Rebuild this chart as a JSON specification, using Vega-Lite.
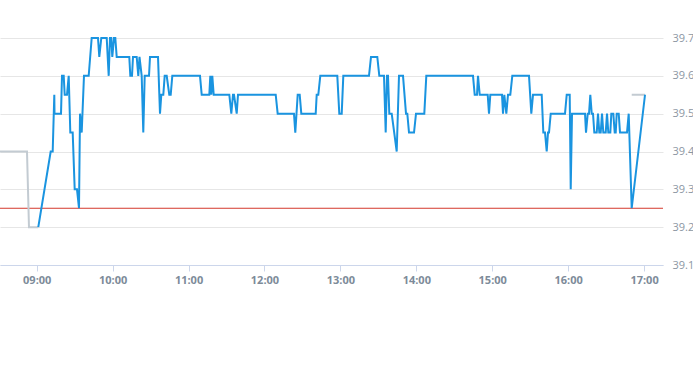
{
  "$schema": "https://vega.github.io/schema/vega-lite/v6.json",
  "width": 663,
  "height": 227,
  "autosize": {"type": "none"},
  "padding": {"left": 0, "top": 38, "right": 30, "bottom": 100},
  "background": "#ffffff",
  "config": {"view": {"stroke": null}},
  "encoding": {
    "y": {
      "field": "v",
      "type": "quantitative",
      "scale": {"domain": [39.1, 39.7], "zero": false, "nice": false},
      "axis": {
        "title": null,
        "orient": "right",
        "values": [39.1, 39.2, 39.3, 39.4, 39.5, 39.6, 39.7],
        "format": ".1f",
        "domain": false,
        "ticks": false,
        "labelOverlap": false,
        "gridColor": "#e6e6e6",
        "labelColor": "#8c97a3",
        "labelFontSize": 11,
        "labelPadding": 9,
        "labelFont": "Open Sans"
      }
    }
  },
  "layer": [
    {
      "data": {"values": [{"v": 39.25}]},
      "mark": {"type": "rule", "color": "#d4382c", "strokeWidth": 1}
    },
    {
      "data": {"values": [
      {"t": "2024-01-02T08:31:00", "v": 39.4, "s": "pre"},
      {"t": "2024-01-02T08:52:20", "v": 39.4, "s": "pre"},
      {"t": "2024-01-02T08:53:55", "v": 39.2, "s": "pre"},
      {"t": "2024-01-02T09:01:16", "v": 39.2, "s": "pre"},
      {"t": "2024-01-02T16:50:16", "v": 39.55, "s": "post"},
      {"t": "2024-01-02T17:00:47", "v": 39.55, "s": "post"},
      {"t": "2024-01-02T09:01:16", "v": 39.2, "s": "main"},
      {"t": "2024-01-02T09:11:04", "v": 39.4, "s": "main"},
      {"t": "2024-01-02T09:12:39", "v": 39.4, "s": "main"},
      {"t": "2024-01-02T09:13:55", "v": 39.55, "s": "main"},
      {"t": "2024-01-02T09:14:05", "v": 39.5, "s": "main"},
      {"t": "2024-01-02T09:19:13", "v": 39.5, "s": "main"},
      {"t": "2024-01-02T09:20:00", "v": 39.6, "s": "main"},
      {"t": "2024-01-02T09:21:21", "v": 39.6, "s": "main"},
      {"t": "2024-01-02T09:22:08", "v": 39.55, "s": "main"},
      {"t": "2024-01-02T09:23:57", "v": 39.55, "s": "main"},
      {"t": "2024-01-02T09:25:18", "v": 39.6, "s": "main"},
      {"t": "2024-01-02T09:26:34", "v": 39.45, "s": "main"},
      {"t": "2024-01-02T09:28:27", "v": 39.45, "s": "main"},
      {"t": "2024-01-02T09:30:02", "v": 39.3, "s": "main"},
      {"t": "2024-01-02T09:31:51", "v": 39.3, "s": "main"},
      {"t": "2024-01-02T09:33:26", "v": 39.25, "s": "main"},
      {"t": "2024-01-02T09:34:14", "v": 39.5, "s": "main"},
      {"t": "2024-01-02T09:35:34", "v": 39.45, "s": "main"},
      {"t": "2024-01-02T09:37:23", "v": 39.6, "s": "main"},
      {"t": "2024-01-02T09:41:06", "v": 39.6, "s": "main"},
      {"t": "2024-01-02T09:43:28", "v": 39.7, "s": "main"},
      {"t": "2024-01-02T09:48:27", "v": 39.7, "s": "main"},
      {"t": "2024-01-02T09:49:29", "v": 39.65, "s": "main"},
      {"t": "2024-01-02T09:51:04", "v": 39.7, "s": "main"},
      {"t": "2024-01-02T09:55:20", "v": 39.7, "s": "main"},
      {"t": "2024-01-02T09:56:55", "v": 39.6, "s": "main"},
      {"t": "2024-01-02T09:57:56", "v": 39.7, "s": "main"},
      {"t": "2024-01-02T09:58:58", "v": 39.7, "s": "main"},
      {"t": "2024-01-02T09:59:45", "v": 39.65, "s": "main"},
      {"t": "2024-01-02T10:01:06", "v": 39.7, "s": "main"},
      {"t": "2024-01-02T10:02:08", "v": 39.7, "s": "main"},
      {"t": "2024-01-02T10:03:14", "v": 39.65, "s": "main"},
      {"t": "2024-01-02T10:13:11", "v": 39.65, "s": "main"},
      {"t": "2024-01-02T10:13:59", "v": 39.6, "s": "main"},
      {"t": "2024-01-02T10:15:20", "v": 39.6, "s": "main"},
      {"t": "2024-01-02T10:16:07", "v": 39.65, "s": "main"},
      {"t": "2024-01-02T10:19:02", "v": 39.65, "s": "main"},
      {"t": "2024-01-02T10:20:18", "v": 39.6, "s": "main"},
      {"t": "2024-01-02T10:21:15", "v": 39.65, "s": "main"},
      {"t": "2024-01-02T10:22:59", "v": 39.6, "s": "main"},
      {"t": "2024-01-02T10:24:15", "v": 39.45, "s": "main"},
      {"t": "2024-01-02T10:25:22", "v": 39.6, "s": "main"},
      {"t": "2024-01-02T10:28:46", "v": 39.6, "s": "main"},
      {"t": "2024-01-02T10:29:33", "v": 39.65, "s": "main"},
      {"t": "2024-01-02T10:35:53", "v": 39.65, "s": "main"},
      {"t": "2024-01-02T10:37:27", "v": 39.5, "s": "main"},
      {"t": "2024-01-02T10:38:29", "v": 39.55, "s": "main"},
      {"t": "2024-01-02T10:40:04", "v": 39.55, "s": "main"},
      {"t": "2024-01-02T10:41:10", "v": 39.6, "s": "main"},
      {"t": "2024-01-02T10:42:45", "v": 39.6, "s": "main"},
      {"t": "2024-01-02T10:44:48", "v": 39.55, "s": "main"},
      {"t": "2024-01-02T10:45:55", "v": 39.55, "s": "main"},
      {"t": "2024-01-02T10:47:11", "v": 39.6, "s": "main"},
      {"t": "2024-01-02T11:09:04", "v": 39.6, "s": "main"},
      {"t": "2024-01-02T11:10:25", "v": 39.55, "s": "main"},
      {"t": "2024-01-02T11:16:25", "v": 39.55, "s": "main"},
      {"t": "2024-01-02T11:17:13", "v": 39.6, "s": "main"},
      {"t": "2024-01-02T11:18:00", "v": 39.55, "s": "main"},
      {"t": "2024-01-02T11:18:47", "v": 39.6, "s": "main"},
      {"t": "2024-01-02T11:19:54", "v": 39.55, "s": "main"},
      {"t": "2024-01-02T11:32:14", "v": 39.55, "s": "main"},
      {"t": "2024-01-02T11:33:49", "v": 39.5, "s": "main"},
      {"t": "2024-01-02T11:35:09", "v": 39.55, "s": "main"},
      {"t": "2024-01-02T11:35:56", "v": 39.55, "s": "main"},
      {"t": "2024-01-02T11:38:05", "v": 39.5, "s": "main"},
      {"t": "2024-01-02T11:39:06", "v": 39.55, "s": "main"},
      {"t": "2024-01-02T12:08:54", "v": 39.55, "s": "main"},
      {"t": "2024-01-02T12:10:28", "v": 39.5, "s": "main"},
      {"t": "2024-01-02T12:23:21", "v": 39.5, "s": "main"},
      {"t": "2024-01-02T12:24:23", "v": 39.45, "s": "main"},
      {"t": "2024-01-02T12:26:17", "v": 39.55, "s": "main"},
      {"t": "2024-01-02T12:27:52", "v": 39.55, "s": "main"},
      {"t": "2024-01-02T12:29:08", "v": 39.5, "s": "main"},
      {"t": "2024-01-02T12:40:31", "v": 39.5, "s": "main"},
      {"t": "2024-01-02T12:41:18", "v": 39.55, "s": "main"},
      {"t": "2024-01-02T12:42:34", "v": 39.55, "s": "main"},
      {"t": "2024-01-02T12:44:09", "v": 39.6, "s": "main"},
      {"t": "2024-01-02T12:57:35", "v": 39.6, "s": "main"},
      {"t": "2024-01-02T12:59:10", "v": 39.5, "s": "main"},
      {"t": "2024-01-02T13:01:04", "v": 39.5, "s": "main"},
      {"t": "2024-01-02T13:02:20", "v": 39.6, "s": "main"},
      {"t": "2024-01-02T13:22:38", "v": 39.6, "s": "main"},
      {"t": "2024-01-02T13:24:13", "v": 39.65, "s": "main"},
      {"t": "2024-01-02T13:29:12", "v": 39.65, "s": "main"},
      {"t": "2024-01-02T13:30:47", "v": 39.6, "s": "main"},
      {"t": "2024-01-02T13:34:29", "v": 39.6, "s": "main"},
      {"t": "2024-01-02T13:35:50", "v": 39.45, "s": "main"},
      {"t": "2024-01-02T13:36:52", "v": 39.6, "s": "main"},
      {"t": "2024-01-02T13:37:39", "v": 39.6, "s": "main"},
      {"t": "2024-01-02T13:38:41", "v": 39.5, "s": "main"},
      {"t": "2024-01-02T13:40:35", "v": 39.5, "s": "main"},
      {"t": "2024-01-02T13:44:32", "v": 39.4, "s": "main"},
      {"t": "2024-01-02T13:46:21", "v": 39.6, "s": "main"},
      {"t": "2024-01-02T13:49:31", "v": 39.6, "s": "main"},
      {"t": "2024-01-02T13:51:53", "v": 39.5, "s": "main"},
      {"t": "2024-01-02T13:52:55", "v": 39.5, "s": "main"},
      {"t": "2024-01-02T13:54:15", "v": 39.45, "s": "main"},
      {"t": "2024-01-02T13:58:13", "v": 39.45, "s": "main"},
      {"t": "2024-01-02T13:59:47", "v": 39.5, "s": "main"},
      {"t": "2024-01-02T14:06:21", "v": 39.5, "s": "main"},
      {"t": "2024-01-02T14:07:56", "v": 39.6, "s": "main"},
      {"t": "2024-01-02T14:44:50", "v": 39.6, "s": "main"},
      {"t": "2024-01-02T14:46:11", "v": 39.55, "s": "main"},
      {"t": "2024-01-02T14:48:00", "v": 39.55, "s": "main"},
      {"t": "2024-01-02T14:48:47", "v": 39.6, "s": "main"},
      {"t": "2024-01-02T14:50:08", "v": 39.55, "s": "main"},
      {"t": "2024-01-02T14:56:27", "v": 39.55, "s": "main"},
      {"t": "2024-01-02T14:57:29", "v": 39.5, "s": "main"},
      {"t": "2024-01-02T14:58:31", "v": 39.55, "s": "main"},
      {"t": "2024-01-02T15:07:45", "v": 39.55, "s": "main"},
      {"t": "2024-01-02T15:08:33", "v": 39.5, "s": "main"},
      {"t": "2024-01-02T15:09:35", "v": 39.55, "s": "main"},
      {"t": "2024-01-02T15:11:10", "v": 39.5, "s": "main"},
      {"t": "2024-01-02T15:12:30", "v": 39.55, "s": "main"},
      {"t": "2024-01-02T15:14:19", "v": 39.55, "s": "main"},
      {"t": "2024-01-02T15:15:54", "v": 39.6, "s": "main"},
      {"t": "2024-01-02T15:29:06", "v": 39.6, "s": "main"},
      {"t": "2024-01-02T15:30:55", "v": 39.5, "s": "main"},
      {"t": "2024-01-02T15:32:16", "v": 39.55, "s": "main"},
      {"t": "2024-01-02T15:39:08", "v": 39.55, "s": "main"},
      {"t": "2024-01-02T15:40:25", "v": 39.45, "s": "main"},
      {"t": "2024-01-02T15:41:45", "v": 39.45, "s": "main"},
      {"t": "2024-01-02T15:43:05", "v": 39.4, "s": "main"},
      {"t": "2024-01-02T15:44:07", "v": 39.45, "s": "main"},
      {"t": "2024-01-02T15:44:55", "v": 39.45, "s": "main"},
      {"t": "2024-01-02T15:46:15", "v": 39.5, "s": "main"},
      {"t": "2024-01-02T15:57:33", "v": 39.5, "s": "main"},
      {"t": "2024-01-02T15:58:54", "v": 39.55, "s": "main"},
      {"t": "2024-01-02T16:01:16", "v": 39.55, "s": "main"},
      {"t": "2024-01-02T16:02:04", "v": 39.3, "s": "main"},
      {"t": "2024-01-02T16:03:05", "v": 39.5, "s": "main"},
      {"t": "2024-01-02T16:13:22", "v": 39.5, "s": "main"},
      {"t": "2024-01-02T16:14:09", "v": 39.45, "s": "main"},
      {"t": "2024-01-02T16:15:30", "v": 39.5, "s": "main"},
      {"t": "2024-01-02T16:16:32", "v": 39.5, "s": "main"},
      {"t": "2024-01-02T16:17:33", "v": 39.55, "s": "main"},
      {"t": "2024-01-02T16:18:40", "v": 39.5, "s": "main"},
      {"t": "2024-01-02T16:19:41", "v": 39.5, "s": "main"},
      {"t": "2024-01-02T16:20:43", "v": 39.45, "s": "main"},
      {"t": "2024-01-02T16:22:37", "v": 39.45, "s": "main"},
      {"t": "2024-01-02T16:23:38", "v": 39.5, "s": "main"},
      {"t": "2024-01-02T16:24:40", "v": 39.45, "s": "main"},
      {"t": "2024-01-02T16:25:46", "v": 39.45, "s": "main"},
      {"t": "2024-01-02T16:26:48", "v": 39.5, "s": "main"},
      {"t": "2024-01-02T16:27:50", "v": 39.45, "s": "main"},
      {"t": "2024-01-02T16:29:44", "v": 39.45, "s": "main"},
      {"t": "2024-01-02T16:30:45", "v": 39.5, "s": "main"},
      {"t": "2024-01-02T16:31:47", "v": 39.45, "s": "main"},
      {"t": "2024-01-02T16:33:22", "v": 39.45, "s": "main"},
      {"t": "2024-01-02T16:34:09", "v": 39.5, "s": "main"},
      {"t": "2024-01-02T16:35:44", "v": 39.5, "s": "main"},
      {"t": "2024-01-02T16:36:50", "v": 39.45, "s": "main"},
      {"t": "2024-01-02T16:37:38", "v": 39.45, "s": "main"},
      {"t": "2024-01-02T16:38:25", "v": 39.5, "s": "main"},
      {"t": "2024-01-02T16:40:00", "v": 39.5, "s": "main"},
      {"t": "2024-01-02T16:41:01", "v": 39.45, "s": "main"},
      {"t": "2024-01-02T16:46:33", "v": 39.45, "s": "main"},
      {"t": "2024-01-02T16:47:54", "v": 39.5, "s": "main"},
      {"t": "2024-01-02T16:50:16", "v": 39.25, "s": "main"},
      {"t": "2024-01-02T17:00:47", "v": 39.55, "s": "main"}
      ]},
      "mark": {"type": "line", "strokeWidth": 2, "interpolate": "linear"},
      "encoding": {
        "x": {
          "field": "t",
          "type": "temporal",
          "scale": {
            "domain": [
              {"year": 2024, "month": 1, "date": 2, "hours": 8, "minutes": 31},
              {"year": 2024, "month": 1, "date": 2, "hours": 17, "minutes": 15}
            ]
          },
          "axis": {
            "title": null,
            "format": "%H:%M",
            "values": [
              {"year": 2024, "month": 1, "date": 2, "hours": 9},
              {"year": 2024, "month": 1, "date": 2, "hours": 10},
              {"year": 2024, "month": 1, "date": 2, "hours": 11},
              {"year": 2024, "month": 1, "date": 2, "hours": 12},
              {"year": 2024, "month": 1, "date": 2, "hours": 13},
              {"year": 2024, "month": 1, "date": 2, "hours": 14},
              {"year": 2024, "month": 1, "date": 2, "hours": 15},
              {"year": 2024, "month": 1, "date": 2, "hours": 16},
              {"year": 2024, "month": 1, "date": 2, "hours": 17}
            ],
            "grid": false,
            "domainColor": "#ccd6eb",
            "tickColor": "#ccd6eb",
            "tickSize": 6,
            "labelColor": "#7d8b99",
            "labelFontSize": 11,
            "labelFontWeight": "bold",
            "labelPadding": 3,
            "labelFont": "Open Sans"
          }
        },
        "color": {
          "field": "s",
          "type": "nominal",
          "scale": {"domain": ["pre", "post", "main"], "range": ["#c3cbd2", "#c3cbd2", "#1a94e0"]},
          "legend": null
        }
      }
    }
  ]
}
